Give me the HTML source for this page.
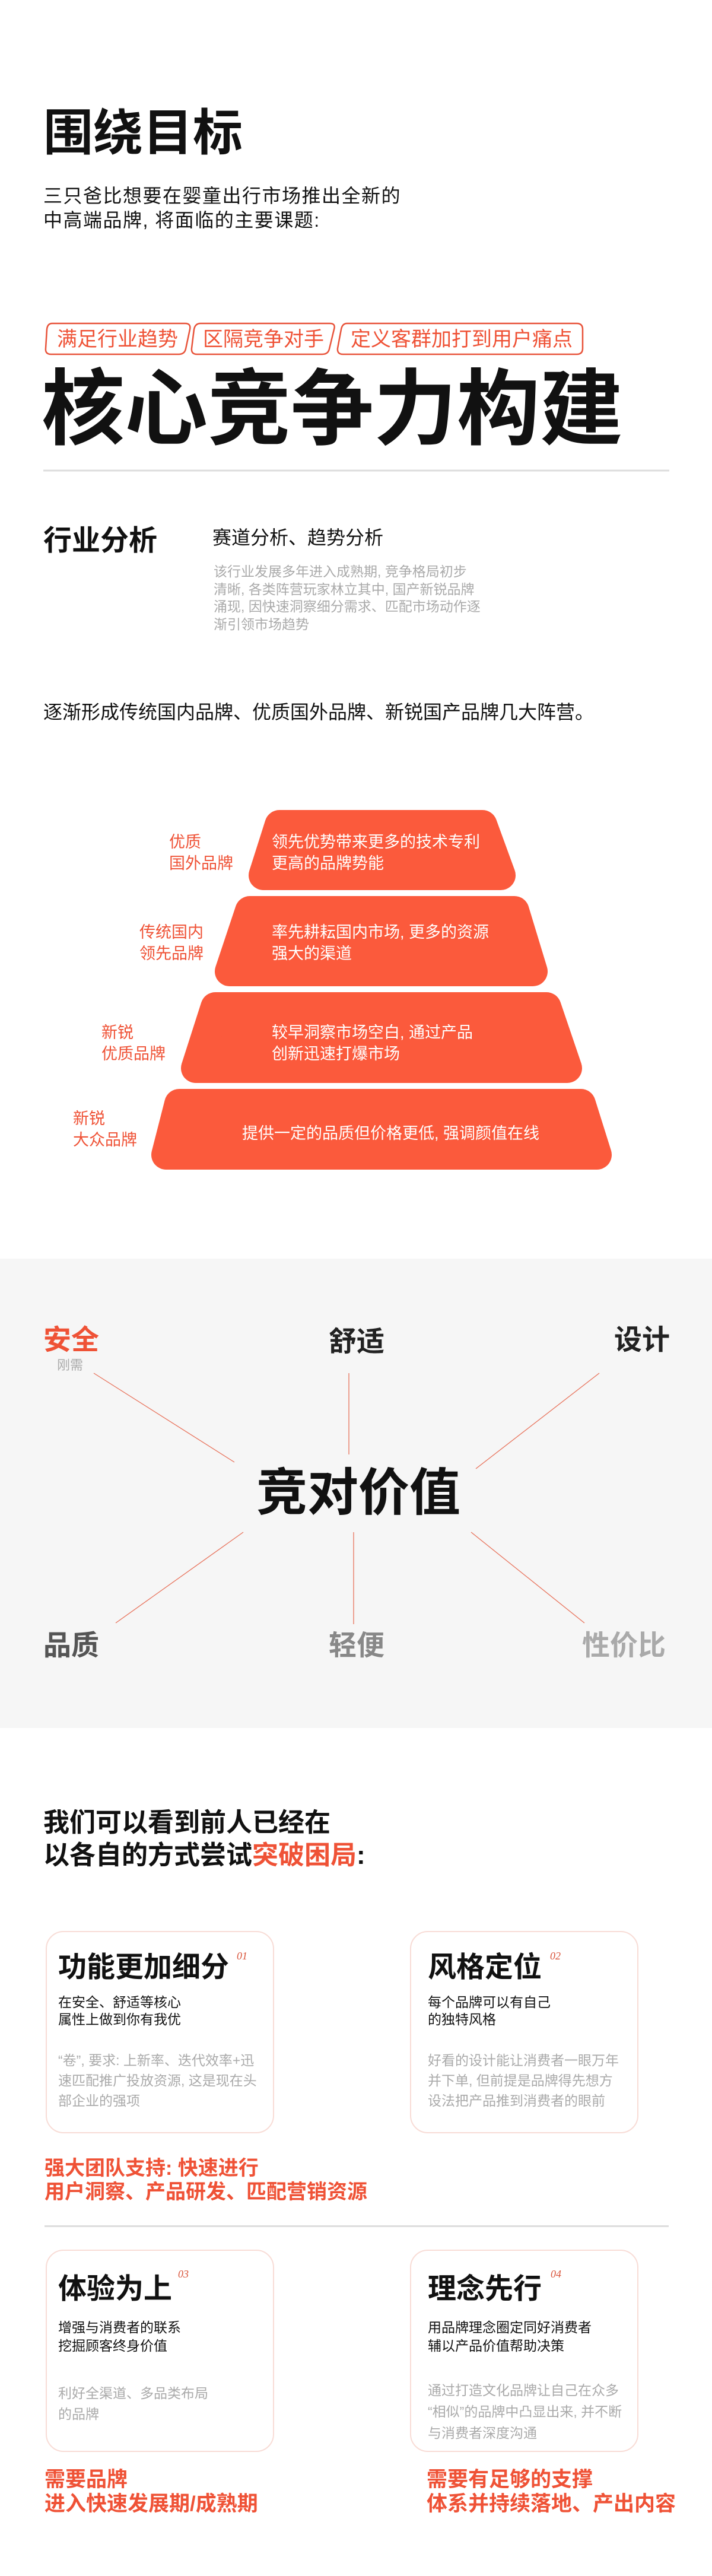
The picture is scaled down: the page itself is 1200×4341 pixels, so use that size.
<!DOCTYPE html>
<html><head><meta charset="utf-8">
<style>
html,body{margin:0;padding:0}
body{width:1200px;height:4341px;position:relative;background:#fff;font-family:"Liberation Sans","Noto Sans CJK SC",sans-serif;color:#111;overflow:hidden}
.a{position:absolute;white-space:nowrap}
.b{font-weight:bold}
.red{color:#ef5236}
.gray{color:#aaa}
.card{position:absolute;border:2px solid #f8dcd6;border-radius:30px;background:#fff;box-sizing:border-box}
.num{position:absolute;font-family:"Liberation Serif",serif;font-style:italic;color:#d9543a;font-size:18px}
</style></head><body>

<div class="a b" style="left:73px;top:182px;font-size:84px;line-height:84px">围绕目标</div>
<div class="a" style="left:73px;top:310px;font-size:32px;line-height:41px;letter-spacing:1.5px">三只爸比想要在婴童出行市场推出全新的<br>中高端品牌, 将面临的主要课题:</div>

<svg class="a" style="left:0;top:0" width="1200" height="800">
<g fill="none" stroke="#e8533a" stroke-width="2.5">
<path d="M88 545 H312 Q322 545 320 555 L313 588 Q311 597 301 597 H86 Q76 597 77 587 L79 555 Q80 545 88 545Z"/>
<path d="M338 545 H556 Q566 545 563 555 L555 588 Q553 597 543 597 H332 Q322 597 323 587 L327 555 Q329 545 338 545Z"/>
<path d="M585 545 H972 Q982 545 982 555 L982 587 Q982 597 972 597 H578 Q568 597 569 587 L575 555 Q577 545 585 545Z"/>
</g>
<line x1="73" y1="793" x2="1128" y2="793" stroke="#ddd" stroke-width="3"/>
</svg>
<div class="a red" style="left:80px;top:552px;width:236px;text-align:center;font-size:34px;line-height:40px">满足行业趋势</div>
<div class="a red" style="left:326px;top:552px;width:236px;text-align:center;font-size:34px;line-height:40px">区隔竞争对手</div>
<div class="a red" style="left:573px;top:552px;width:410px;text-align:center;font-size:34px;line-height:40px">定义客群加打到用户痛点</div>

<div class="a b" style="left:70px;top:620px;font-size:140px;line-height:140px">核心竞争力构建</div>

<div class="a b" style="left:73px;top:888px;font-size:48px;line-height:48px">行业分析</div>
<div class="a" style="left:358px;top:890px;font-size:32px;line-height:32px">赛道分析、趋势分析</div>
<div class="a gray" style="left:360px;top:949px;font-size:23px;line-height:29.5px">该行业发展多年进入成熟期, 竞争格局初步<br>清晰, 各类阵营玩家林立其中, 国产新锐品牌<br>涌现, 因快速洞察细分需求、匹配市场动作逐<br>渐引领市场趋势</div>

<div class="a" style="left:73px;top:1183px;font-size:32px;line-height:34px">逐渐形成传统国内品牌、优质国外品牌、新锐国产品牌几大阵营。</div>

<svg class="a" style="left:0;top:1300px" width="1200" height="700">
<g fill="#fb5a3c" stroke="#fb5a3c" stroke-width="50" stroke-linejoin="round">
<polygon points="471,90 813,90 844,175 444,175"/>
<polygon points="421,235 867,235 898,337 387,337"/>
<polygon points="363,397 921,397 956,500 330,500"/>
<polygon points="302,560 979,560 1006,646 280,646"/>
</g>
</svg>
<div class="a" style="left:458px;top:1401px;font-size:27px;line-height:36px;color:#fff">领先优势带来更多的技术专利<br>更高的品牌势能</div>
<div class="a" style="left:458px;top:1553px;font-size:27px;line-height:36px;color:#fff">率先耕耘国内市场, 更多的资源<br>强大的渠道</div>
<div class="a" style="left:458px;top:1722px;font-size:27px;line-height:36px;color:#fff">较早洞察市场空白, 通过产品<br>创新迅速打爆市场</div>
<div class="a" style="left:408px;top:1892px;font-size:27px;line-height:36px;color:#fff">提供一定的品质但价格更低, 强调颜值在线</div>
<div class="a red" style="left:285px;top:1401px;font-size:27px;line-height:36px">优质<br>国外品牌</div>
<div class="a red" style="left:235px;top:1553px;font-size:27px;line-height:36px">传统国内<br>领先品牌</div>
<div class="a red" style="left:171px;top:1722px;font-size:27px;line-height:36px">新锐<br>优质品牌</div>
<div class="a red" style="left:123px;top:1867px;font-size:27px;line-height:36px">新锐<br>大众品牌</div>

<div class="a" style="left:0;top:2121px;width:1200px;height:791px;background:#f6f6f6"></div>
<svg class="a" style="left:0;top:2100px" width="1200" height="850">
<g stroke="#e8735c" stroke-width="1.3">
<line x1="158" y1="214" x2="395" y2="364"/>
<line x1="588" y1="214" x2="588" y2="351"/>
<line x1="1010" y1="214" x2="802" y2="375"/>
<line x1="410" y1="482" x2="195" y2="635"/>
<line x1="596" y1="482" x2="596" y2="637"/>
<line x1="794" y1="482" x2="985" y2="635"/>
</g>
</svg>
<div class="a b red" style="left:73px;top:2234px;font-size:47px;line-height:48px">安全</div>
<div class="a" style="left:96px;top:2289px;font-size:22px;line-height:24px;color:#aaa">刚需</div>
<div class="a b" style="left:554px;top:2237px;font-size:47px;line-height:48px;color:#222">舒适</div>
<div class="a b" style="left:1035px;top:2234px;font-size:47px;line-height:48px;color:#222">设计</div>
<div class="a b" style="left:432px;top:2472px;font-size:86px;line-height:88px">竞对价值</div>
<div class="a b" style="left:73px;top:2749px;font-size:47px;line-height:48px;color:#555">品质</div>
<div class="a b" style="left:554px;top:2749px;font-size:47px;line-height:48px;color:#888">轻便</div>
<div class="a b" style="left:981px;top:2749px;font-size:47px;line-height:48px;color:#aaa">性价比</div>

<div class="a b" style="left:73px;top:3044px;font-size:44px;line-height:55px">我们可以看到前人已经在<br>以各自的方式尝试<span class="red">突破困局</span>:</div>

<div class="card" style="left:77px;top:3254px;width:385px;height:341px"></div>
<div class="card" style="left:691px;top:3254px;width:385px;height:341px"></div>
<div class="card" style="left:77px;top:3791px;width:385px;height:341px"></div>
<div class="card" style="left:691px;top:3791px;width:385px;height:341px"></div>

<div class="a b" style="left:98px;top:3291px;font-size:48px;line-height:50px">功能更加细分</div>
<div class="num" style="left:399px;top:3286px">01</div>
<div class="a" style="left:98px;top:3360px;font-size:23px;line-height:29px">在安全、舒适等核心<br>属性上做到你有我优</div>
<div class="a gray" style="left:98px;top:3455px;font-size:23px;line-height:34px">“卷”, 要求: 上新率、迭代效率+迅<br>速匹配推广投放资源, 这是现在头<br>部企业的强项</div>

<div class="a b" style="left:721px;top:3291px;font-size:48px;line-height:50px">风格定位</div>
<div class="num" style="left:927px;top:3286px">02</div>
<div class="a" style="left:721px;top:3360px;font-size:23px;line-height:29px">每个品牌可以有自己<br>的独特风格</div>
<div class="a gray" style="left:721px;top:3455px;font-size:23px;line-height:34px">好看的设计能让消费者一眼万年<br>并下单, 但前提是品牌得先想方<br>设法把产品推到消费者的眼前</div>

<div class="a b red" style="left:75px;top:3634px;font-size:34px;line-height:40px">强大团队支持: 快速进行<br>用户洞察、产品研发、匹配营销资源</div>

<div class="a" style="left:75px;top:3750px;width:1052px;height:3px;background:#ddd"></div>

<div class="a b" style="left:98px;top:3833px;font-size:48px;line-height:50px">体验为上</div>
<div class="num" style="left:300px;top:3822px">03</div>
<div class="a" style="left:98px;top:3907px;font-size:23px;line-height:31px">增强与消费者的联系<br>挖掘顾客终身价值</div>
<div class="a gray" style="left:98px;top:4016px;font-size:23px;line-height:35px">利好全渠道、多品类布局<br>的品牌</div>

<div class="a b" style="left:721px;top:3833px;font-size:48px;line-height:50px">理念先行</div>
<div class="num" style="left:928px;top:3822px">04</div>
<div class="a" style="left:721px;top:3907px;font-size:23px;line-height:31px">用品牌理念圈定同好消费者<br>辅以产品价值帮助决策</div>
<div class="a gray" style="left:721px;top:4010px;font-size:23px;line-height:36px">通过打造文化品牌让自己在众多<br>“相似”的品牌中凸显出来, 并不断<br>与消费者深度沟通</div>

<div class="a b red" style="left:75px;top:4158px;font-size:35px;line-height:41px">需要品牌<br>进入快速发展期/成熟期</div>
<div class="a b red" style="left:719px;top:4158px;font-size:35px;line-height:41px">需要有足够的支撑<br>体系并持续落地、产出内容</div>

</body></html>
